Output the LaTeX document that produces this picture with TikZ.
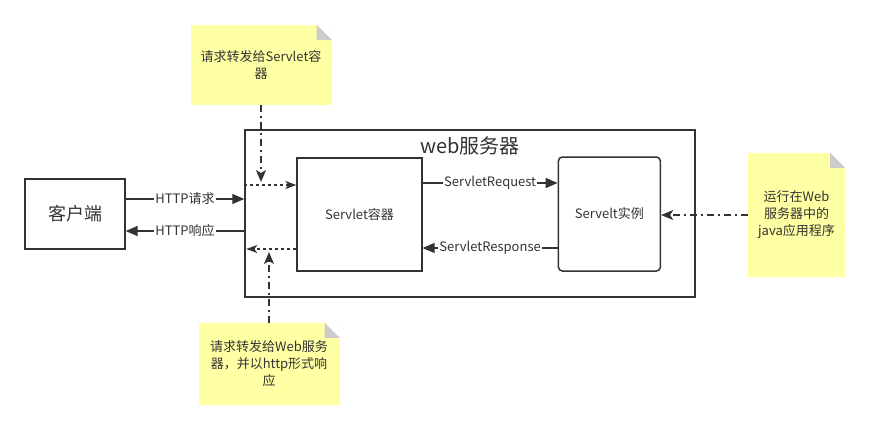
\documentclass[tikz,border=0pt]{standalone}
\usepackage{fontspec}
\setmainfont{Noto Sans CJK SC}
\usetikzlibrary{arrows.meta, positioning}
\definecolor{inkgray}{RGB}{51, 51, 51}
\definecolor{notefill}{RGB}{255, 255, 163}
\definecolor{foldgray}{RGB}{204, 204, 204}

\tikzset{
  box/.style={draw=inkgray, line width=1.3pt, text=inkgray, inner sep=0pt, font=\fontsize{13}{15}\selectfont},
  notebox/.style={fill=notefill, text=inkgray, align=center, inner sep=0pt, font=\fontsize{13}{17}\selectfont},
  flow/.style={draw=inkgray, line width=1.3pt, -{Triangle[length=12pt, width=10pt]}},
  dotflow/.style={draw=inkgray, line width=1.3pt, dash pattern=on 3pt off 3pt, -{Stealth[length=11pt, width=8pt, inset=3pt]}},
  dashdot/.style={draw=inkgray, line width=1.3pt, dash pattern=on 7pt off 4pt on 2pt off 4pt, -{Stealth[length=12pt, width=10pt, inset=3pt]}},
  lbl/.style={fill=white, inner sep=1pt, text=inkgray, font=\fontsize{13}{15}\selectfont},
}

% folded corner of a note
\newcommand{\notefold}[1]{%
  \fill[white] ([xshift=-15pt]#1.north east) -- (#1.north east) -- ([yshift=-15pt]#1.north east) -- cycle;
  \fill[foldgray] ([xshift=-15pt]#1.north east) -- ([xshift=-15pt, yshift=-15pt]#1.north east) -- ([yshift=-15pt]#1.north east) -- cycle;
}

\begin{document}
\begin{tikzpicture}[x=1pt, y=-1pt]
  \useasboundingbox (0,0) rectangle (870,429);

  % Client and web server
  \node[box, minimum width=100pt, minimum height=70pt, font=\fontsize{18}{20}\selectfont] (client) at (75,214) {客户端};
  \node[box, line width=1.4pt, minimum width=450pt, minimum height=167pt] (server) at (470,213.5) {};
  \node[text=inkgray, font=\fontsize{20}{22}\selectfont] (servertitle) at (470,146) {web服务器};

  % Servlet container and instance
  \node[box, minimum width=125pt, minimum height=113pt] (container) at (359.5,214.5) {Servlet容器};
  \node[box, line width=1.5pt, rounded corners=4pt, minimum width=102pt, minimum height=114pt] (instance) at (609.4,214) {Servelt实例};

  % Notes
  \node[notebox, minimum width=141pt, minimum height=80pt] (fwdnote) at (261,65) {请求转发给Servlet容\\器};
  \node[notebox, minimum width=141pt, minimum height=82pt] (respnote) at (269,364) {请求转发给Web服务\\器，并以http形式响\\应};
  \node[notebox, minimum width=97pt, minimum height=124pt] (javanote) at (796.5,215) {运行在Web\\服务器中的\\java应用程序};
  \notefold{fwdnote}
  \notefold{respnote}
  \notefold{javanote}

  % HTTP request / response
  \draw[flow] ([yshift=15pt]client.east) -- ([yshift=14.5pt]server.west) node[lbl, midway] {HTTP请求};
  \draw[flow] ([yshift=-17.5pt]server.west) -- ([yshift=-17pt]client.east) node[lbl, midway] {HTTP响应};

  % Servlet request / response
  \draw[flow] ([yshift=31.5pt]container.east) -- ([yshift=31pt]instance.west) node[lbl, midway] {ServletRequest};
  \draw[flow] ([yshift=-34pt]instance.west) -- ([yshift=-33.5pt]container.east) node[lbl, midway] {ServletResponse};

  % Forwarding inside the server
  \draw[dotflow] ([yshift=28.5pt]server.west) -- ([yshift=29.5pt]container.west);
  \draw[dotflow] ([yshift=-34.5pt]container.west) -- ([xshift=2pt, yshift=-35.5pt]server.west);

  % Note pointers
  \coordinate (fwdtip) at (261,182);
  \coordinate (resptip) at (269,252);
  \draw[dashdot] (fwdnote.south) -- (fwdtip);
  \draw[dashdot] (respnote.north) -- (resptip);
  \draw[dashdot] (javanote.west) -- (javanote.west -| instance.east);
\end{tikzpicture}
\end{document}
